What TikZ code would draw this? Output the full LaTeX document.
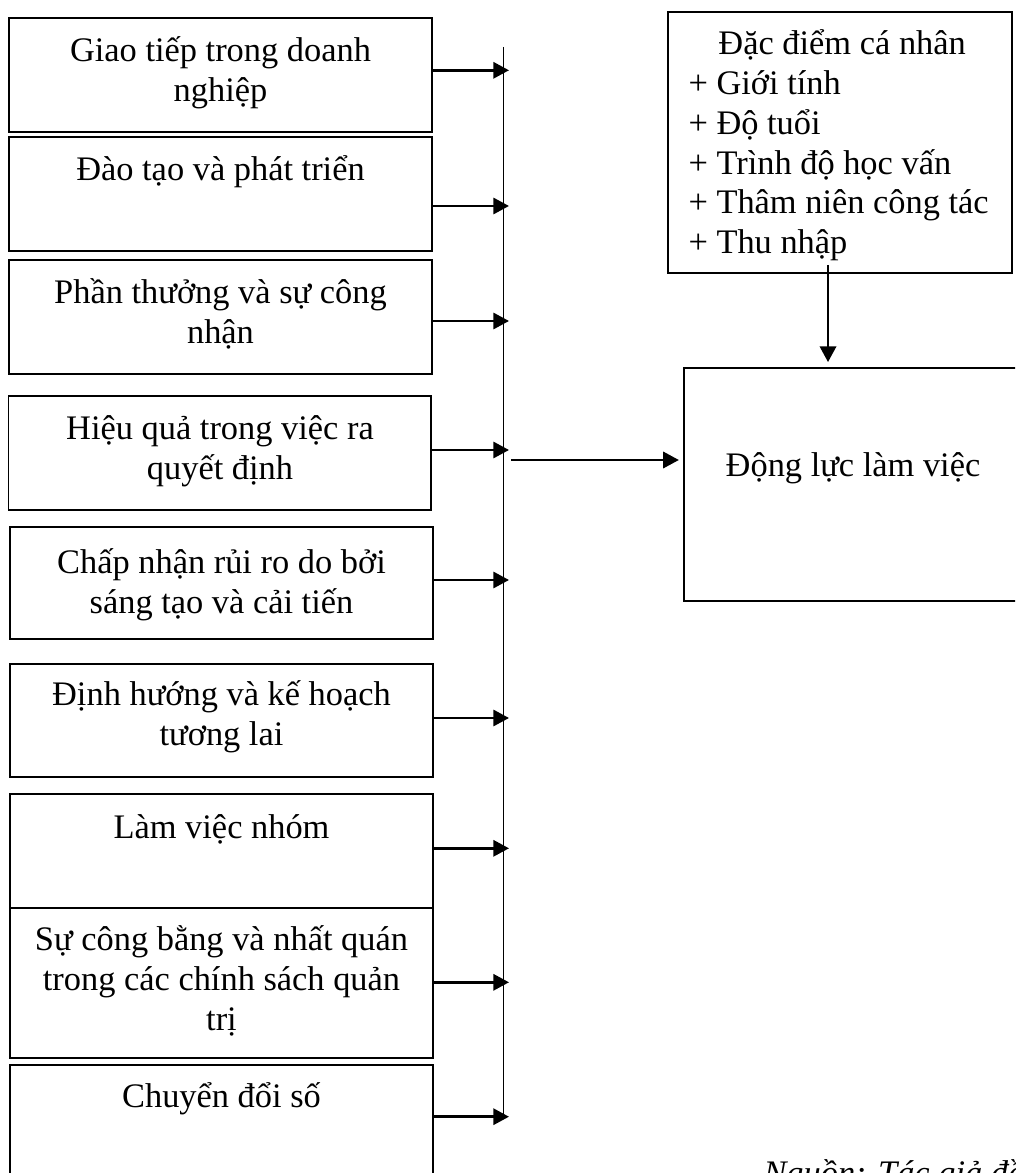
\documentclass[tikz,border=0pt]{standalone}
\usepackage{fontspec}
\setmainfont{Liberation Serif}
\usetikzlibrary{arrows.meta,fit}
\newcommand\tst{\rule{0pt}{14pt}}
\begin{document}
\begin{tikzpicture}[x=0.407pt,y=-0.407pt,
 box/.style={draw,line width=0.8pt,inner sep=0pt},
 lbl/.style={anchor=north,inner sep=0pt,align=center,font=\fontsize{14}{16.2}\selectfont},
 arr/.style={line width=1.1pt,-{Triangle[length=6.4pt,width=6.6pt]}},
 bus/.style={line width=0.6pt}]
\useasboundingbox (0,0) rectangle (1015,1173);
\clip (0,0) rectangle (1015,1173);
% left boxes
\node[box, fit={(9,18.3) (432,131.7)}] (b1) {};
\node[box, fit={(9,137) (432,250.7)}] (b2) {};
\node[box, fit={(9,260) (432,374.3)}] (b3) {};
\node[box, fit={(8.5,396) (431,510)}] (b4) {};
\node[box, fit={(10,526.7) (433,639.3)}] (b5) {};
\node[box, fit={(10,664) (433,776.7)}] (b6) {};
\node[box, fit={(10,794.3) (433,907.7)}] (b7) {};
\node[box, fit={(10,907.7) (433,1058.3)}] (b8) {};
\node[box, fit={(10,1064.7) (433,1190)}] (b9) {};
% labels
\node[lbl] (l1) at (220.5,26.9) {\tst Giao tiếp trong doanh\\nghiệp};
\node[lbl] (l2) at (220.5,145.6) {\tst Đào tạo và phát triển};
\node[lbl] (l3) at (220.5,268.6) {\tst Phần thưởng và sự công\\nhận};
\node[lbl] (l4) at (220,404.6) {\tst Hiệu quả trong việc ra\\quyết định};
\node[lbl] (l5) at (221.5,539) {\tst Chấp nhận rủi ro do bởi\\sáng tạo và cải tiến};
\node[lbl] (l6) at (221.5,671) {\tst Định hướng và kế hoạch\\tương lai};
\node[lbl] (l7) at (221.5,804) {\tst Làm việc nhóm};
\node[lbl] (l8) at (221.5,915.6) {\tst Sự công bằng và nhất quán\\trong các chính sách quản\\trị};
\node[lbl] (l9) at (221.5,1072.3) {\tst Chuyển đổi số};
% bus
\coordinate (bt) at (503.5,47);
\coordinate (bb) at (503.5,1117);
\draw[bus] (bt) -- (bb);
\coordinate (a1) at (509,70.3);
\coordinate (a2) at (509,206);
\coordinate (a3) at (509,321);
\coordinate (a4) at (509,450);
\coordinate (a5) at (509,580);
\coordinate (a6) at (509,718);
\coordinate (a7) at (509,848.3);
\coordinate (a8) at (509,982.3);
\coordinate (a9) at (509,1116.7);
\foreach \i in {1,...,9}{\draw[arr] (b\i.east |- a\i) -- (a\i);}
% right boxes
\node[box, fit={(668.4,11.7) (1012,273.3)}] (p) {};
\node[anchor=north west,inner sep=0pt,align=left,font=\fontsize{14}{16.2}\selectfont] (pl) at (688,19.9)
 {\tst\hspace*{12.2pt}Đặc điểm cá nhân\\+ Giới tính\\+ Độ tuổi\\+ Trình độ học vấn\\+ Thâm niên công tác\\+ Thu nhập};
\node[box, fit={(683.8,368) (1022,601)}] (dl) {};
\node[anchor=base,inner sep=0pt,font=\fontsize{14}{16.2}\selectfont] (dlt) at (853,476.7) {Động lực làm việc};
% connectors
\coordinate (m0) at (511.4,460);
\draw[arr, shorten >=1.6pt] (m0) -- (dl.west |- m0);
\coordinate (d0) at (828,265);
\draw[arr, shorten >=2pt] (d0) -- (dl.north -| d0);
% source
\node[anchor=base west,inner sep=0pt,font=\fontsize{14}{16.2}\selectfont\itshape] (src) at (763,1184.5) {Nguồn: Tác giả đề};
\end{tikzpicture}
\end{document}
